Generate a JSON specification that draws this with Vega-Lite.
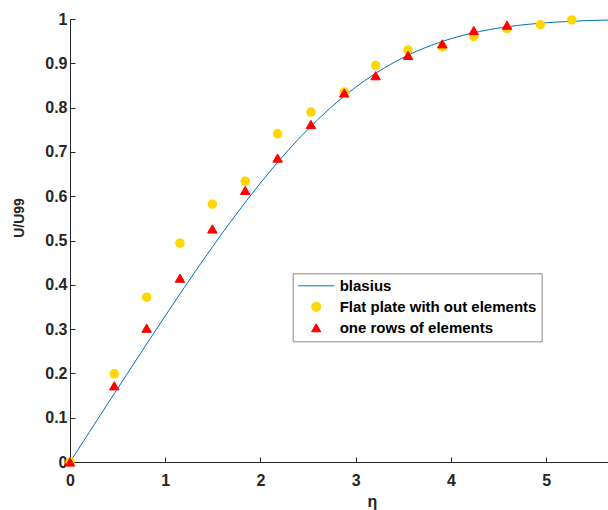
{
  "$schema": "https://vega.github.io/schema/vega-lite/v6.json",
  "width": 538,
  "height": 443,
  "autosize": "none",
  "padding": {"left": 70, "top": 19, "right": 0, "bottom": 48},
  "background": "white",
  "config": {
    "view": {"stroke": null},
    "font": "Liberation Sans"
  },
  "datasets": {
    "blasius": [
      {"series": "blasius", "eta": 0.0, "u": 0.0},
      {"series": "blasius", "eta": 0.2, "u": 0.06641},
      {"series": "blasius", "eta": 0.4, "u": 0.13277},
      {"series": "blasius", "eta": 0.6, "u": 0.19894},
      {"series": "blasius", "eta": 0.8, "u": 0.26471},
      {"series": "blasius", "eta": 1.0, "u": 0.32979},
      {"series": "blasius", "eta": 1.2, "u": 0.39378},
      {"series": "blasius", "eta": 1.4, "u": 0.45627},
      {"series": "blasius", "eta": 1.6, "u": 0.51676},
      {"series": "blasius", "eta": 1.8, "u": 0.57477},
      {"series": "blasius", "eta": 2.0, "u": 0.62977},
      {"series": "blasius", "eta": 2.2, "u": 0.68132},
      {"series": "blasius", "eta": 2.4, "u": 0.72899},
      {"series": "blasius", "eta": 2.6, "u": 0.77246},
      {"series": "blasius", "eta": 2.8, "u": 0.81152},
      {"series": "blasius", "eta": 3.0, "u": 0.84605},
      {"series": "blasius", "eta": 3.2, "u": 0.87609},
      {"series": "blasius", "eta": 3.4, "u": 0.90177},
      {"series": "blasius", "eta": 3.6, "u": 0.92333},
      {"series": "blasius", "eta": 3.8, "u": 0.94112},
      {"series": "blasius", "eta": 4.0, "u": 0.95552},
      {"series": "blasius", "eta": 4.2, "u": 0.96696},
      {"series": "blasius", "eta": 4.4, "u": 0.97587},
      {"series": "blasius", "eta": 4.6, "u": 0.98269},
      {"series": "blasius", "eta": 4.8, "u": 0.98779},
      {"series": "blasius", "eta": 5.0, "u": 0.99155},
      {"series": "blasius", "eta": 5.2, "u": 0.99425},
      {"series": "blasius", "eta": 5.4, "u": 0.99616},
      {"series": "blasius", "eta": 5.6, "u": 0.99748},
      {"series": "blasius", "eta": 5.8, "u": 0.99838}
    ],
    "flat": [
      {"series": "Flat plate with out elements", "eta": 0.0, "u": 0.0},
      {"series": "Flat plate with out elements", "eta": 0.465, "u": 0.199},
      {"series": "Flat plate with out elements", "eta": 0.805, "u": 0.372},
      {"series": "Flat plate with out elements", "eta": 1.155, "u": 0.494},
      {"series": "Flat plate with out elements", "eta": 1.495, "u": 0.582},
      {"series": "Flat plate with out elements", "eta": 1.84, "u": 0.634},
      {"series": "Flat plate with out elements", "eta": 2.18, "u": 0.741},
      {"series": "Flat plate with out elements", "eta": 2.53, "u": 0.79},
      {"series": "Flat plate with out elements", "eta": 2.88, "u": 0.835},
      {"series": "Flat plate with out elements", "eta": 3.21, "u": 0.895},
      {"series": "Flat plate with out elements", "eta": 3.55, "u": 0.93},
      {"series": "Flat plate with out elements", "eta": 3.91, "u": 0.937},
      {"series": "Flat plate with out elements", "eta": 4.24, "u": 0.96},
      {"series": "Flat plate with out elements", "eta": 4.59, "u": 0.978},
      {"series": "Flat plate with out elements", "eta": 4.94, "u": 0.987},
      {"series": "Flat plate with out elements", "eta": 5.27, "u": 0.998}
    ],
    "rows": [
      {"series": "one rows of elements", "eta": 0.0, "u": 0.0},
      {"series": "one rows of elements", "eta": 0.465, "u": 0.172},
      {"series": "one rows of elements", "eta": 0.805, "u": 0.302},
      {"series": "one rows of elements", "eta": 1.155, "u": 0.415},
      {"series": "one rows of elements", "eta": 1.495, "u": 0.526},
      {"series": "one rows of elements", "eta": 1.84, "u": 0.613},
      {"series": "one rows of elements", "eta": 2.18, "u": 0.686},
      {"series": "one rows of elements", "eta": 2.53, "u": 0.762},
      {"series": "one rows of elements", "eta": 2.88, "u": 0.833},
      {"series": "one rows of elements", "eta": 3.21, "u": 0.872},
      {"series": "one rows of elements", "eta": 3.55, "u": 0.918},
      {"series": "one rows of elements", "eta": 3.91, "u": 0.944},
      {"series": "one rows of elements", "eta": 4.24, "u": 0.974},
      {"series": "one rows of elements", "eta": 4.59, "u": 0.986}
    ]
  },
  "encoding": {
    "x": {
      "field": "eta", "type": "quantitative",
      "scale": {"domain": [0, 5.65], "nice": false, "zero": false},
      "axis": {
        "title": "η", "values": [0, 1, 2, 3, 4, 5], "grid": false,
        "domainColor": "#262626", "tickColor": "#262626", "tickSize": -5,
        "labelFont": "Liberation Sans", "labelFontWeight": "bold", "labelFontSize": 16,
        "labelColor": "#262626", "labelPadding": 15, "labelFlush": false,
        "titleFont": "Liberation Sans", "titleFontWeight": "bold", "titleFontSize": 16,
        "titleColor": "#262626", "titleX": 302, "titleY": 44, "titleBaseline": "alphabetic", "titleAlign": "center"
      }
    },
    "y": {
      "field": "u", "type": "quantitative",
      "scale": {"domain": [0, 1], "nice": false},
      "axis": {
        "title": "U/U99", "values": [0, 0.1, 0.2, 0.3, 0.4, 0.5, 0.6, 0.7, 0.8, 0.9, 1], "format": ".1~f", "grid": false,
        "domainColor": "#262626", "tickColor": "#262626", "tickSize": -5,
        "labelFont": "Liberation Sans", "labelFontWeight": "bold", "labelFontSize": 16,
        "labelColor": "#262626", "labelPadding": 8, "labelFlush": false,
        "titleFont": "Liberation Sans", "titleFontWeight": "bold", "titleFontSize": 14,
        "titleColor": "#262626", "titleX": -50.5, "titleY": 198.5, "titleBaseline": "middle", "titleAlign": "center", "titleAngle": 270
      }
    },
    "color": {
      "field": "series", "type": "nominal",
      "scale": {
        "domain": ["blasius", "Flat plate with out elements", "one rows of elements"],
        "range": ["#0072BD", "#FFD700", "#FF0000"]
      },
      "legend": {
        "orient": "none", "legendX": 222.7, "legendY": 254.3, "title": null,
        "labelFont": "Liberation Sans", "labelFontWeight": "bold", "labelFontSize": 15, "labelColor": "#000000",
        "labelLimit": 400,
        "strokeColor": "#8c8c8c", "fillColor": "white", "padding": 5, "labelOffset": 6,
        "symbolSize": 1300, "symbolType": "stroke", "rowPadding": 5,
        "encode": {
          "symbols": {
            "update": {
              "x": {"value": 18.5},
              "shape": {"signal": "datum.value === 'blasius' ? 'stroke' : (datum.value === 'one rows of elements' ? 'triangle-up' : 'circle')"},
              "fill": {"signal": "datum.value === 'blasius' ? 'transparent' : scale('color', datum.value)"},
              "stroke": {"signal": "scale('color', datum.value)"},
              "size": {"signal": "datum.value === 'blasius' ? 1300 : 85"},
              "strokeWidth": {"value": 1},
              "opacity": {"value": 1}
            }
          },
          "labels": {
            "update": {
              "x": {"value": 42}
            }
          }
        }
      }
    }
  },
  "layer": [
    {
      "data": {"name": "blasius"},
      "mark": {"type": "line", "clip": true, "strokeWidth": 1, "interpolate": "monotone"}
    },
    {
      "data": {"name": "flat"},
      "mark": {"type": "point", "shape": "circle", "filled": true, "opacity": 1, "size": 90, "clip": false}
    },
    {
      "data": {"name": "rows"},
      "mark": {"type": "point", "shape": "triangle-up", "filled": true, "opacity": 1, "size": 90, "stroke": "#FF0000", "strokeWidth": 1, "clip": false}
    }
  ]
}
